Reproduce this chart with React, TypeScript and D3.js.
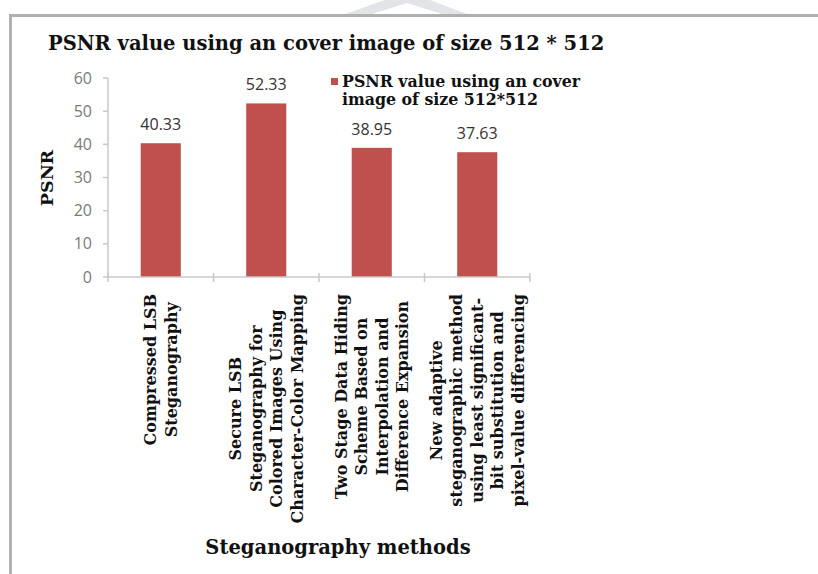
import React, { useEffect, useRef } from "react";
import * as d3 from "d3";

const categories: string[][] = [
  ["Compressed LSB", "Steganography"],
  ["Secure LSB", "Steganography for", "Colored Images Using", "Character-Color Mapping"],
  ["Two Stage Data Hiding", "Scheme Based on", "Interpolation and", "Difference Expansion"],
  ["New adaptive", "steganographic method", "using least significant-", "bit substitution and", "pixel-value differencing"],
];
const psnrValues: number[] = [40.33, 52.33, 38.95, 37.63];
const yTicks: number[] = [0, 10, 20, 30, 40, 50, 60];
const chartTitle = "PSNR value using an cover image of size 512 * 512";
const legendLines: string[] = ["PSNR value using an cover", "image of size 512*512"];
const yTitle = "PSNR";
const xTitle = "Steganography methods";

const W = 818;
const H = 574;
const SERIF = "'DejaVu Serif', serif";
const SANS = "'Open Sans', 'Liberation Sans', sans-serif";
const RED = "#C0504D";

export default function App() {
  const ref = useRef<SVGSVGElement | null>(null);

  useEffect(() => {
    const svg = d3.select(ref.current);
    svg.selectAll("*").remove();

    const left = 108, right = 530, top = 78, bottom = 277;

    // frame
    svg.append("rect").attr("width", W).attr("height", H).attr("fill", "#fff");
    svg.append("polygon")
      .attr("points", "345,14 385,0 430,0 467,14 442,14 407,3 372,14")
      .attr("fill", "#e2e4e7");
    svg.append("line").attr("x1", 9).attr("x2", W).attr("y1", 15.5).attr("y2", 15.5)
      .attr("stroke", "#b0b0b0").attr("stroke-width", 3);
    svg.append("line").attr("x1", 10.5).attr("x2", 10.5).attr("y1", 14).attr("y2", H)
      .attr("stroke", "#b0b0b0").attr("stroke-width", 3);

    // title
    svg.append("text").attr("x", 48).attr("y", 50)
      .attr("font-family", SERIF).attr("font-weight", "bold").attr("font-size", 19.5)
      .attr("fill", "#111").text(chartTitle);

    const x = d3.scaleBand<number>().domain(d3.range(categories.length)).range([left, right]).paddingInner(0.62).paddingOuter(0.31);
    const xb = d3.scaleBand<number>().domain(d3.range(categories.length)).range([left, right]);
    const y = d3.scaleLinear().domain([0, 60]).range([bottom, top]);

    // y axis
    const g = svg.append("g");
    g.append("line").attr("x1", left).attr("x2", left).attr("y1", top).attr("y2", bottom)
      .attr("stroke", "#c8c8c8").attr("stroke-width", 1.5);
    yTicks.forEach((t) => {
      g.append("line").attr("x1", left - 5).attr("x2", left).attr("y1", y(t)).attr("y2", y(t))
        .attr("stroke", "#c8c8c8").attr("stroke-width", 1.5);
      g.append("text").attr("x", left - 16).attr("y", y(t)).attr("dy", "0.35em")
        .attr("text-anchor", "end").attr("font-family", SANS).attr("font-size", 16)
        .attr("fill", "#7a7a7a").text(String(t));
    });

    // bars
    psnrValues.forEach((v, i) => {
      g.append("rect").attr("x", x(i)!).attr("width", x.bandwidth())
        .attr("y", y(v)).attr("height", y(0) - y(v)).attr("fill", RED);
      g.append("text").attr("x", x(i)! + x.bandwidth() / 2).attr("y", y(v) - 13)
        .attr("text-anchor", "middle").attr("font-family", SANS).attr("font-size", 16)
        .attr("fill", "#333").text(v.toFixed(2));
    });

    // x axis
    g.append("line").attr("x1", left).attr("x2", right).attr("y1", bottom).attr("y2", bottom)
      .attr("stroke", "#c8c8c8").attr("stroke-width", 1.5);
    d3.range(categories.length + 1).forEach((i) => {
      const xx = i < categories.length ? xb(i)! : right;
      g.append("line").attr("x1", xx).attr("x2", xx).attr("y1", bottom - 4).attr("y2", bottom + 5)
        .attr("stroke", "#c8c8c8").attr("stroke-width", 1.5);
    });

    // x labels
    categories.forEach((lines, i) => {
      const cx = xb(i)! + xb.bandwidth() / 2;
      const lg = g.append("g");
      const texts = lines.map((ln) =>
        lg.append("text").attr("font-family", SERIF).attr("font-weight", "bold")
          .attr("font-size", 16).attr("fill", "#111").attr("text-anchor", "middle")
          .attr("dominant-baseline", "central").text(ln)
      );
      const maxLen = d3.max(texts, (t) => (t.node() as SVGTextElement).getComputedTextLength()) || 0;
      const cy = 294 + maxLen / 2;
      texts.forEach((t, j) => {
        const lx = cx + (j - (lines.length - 1) / 2) * 20.5;
        t.attr("transform", `translate(${lx},${cy}) rotate(-90)`);
      });
    });

    // axis titles
    svg.append("text").attr("transform", `translate(47,178) rotate(-90)`)
      .attr("text-anchor", "middle").attr("dominant-baseline", "central")
      .attr("font-family", SERIF).attr("font-weight", "bold").attr("font-size", 17.5)
      .attr("fill", "#111").text(yTitle);
    svg.append("text").attr("x", 338).attr("y", 554).attr("text-anchor", "middle")
      .attr("font-family", SERIF).attr("font-weight", "bold").attr("font-size", 19.5)
      .attr("fill", "#111").text(xTitle);

    // legend
    svg.append("rect").attr("x", 331).attr("y", 78).attr("width", 7).attr("height", 7).attr("fill", RED);
    legendLines.forEach((ln, i) => {
      svg.append("text").attr("x", 342).attr("y", 87 + i * 18)
        .attr("font-family", SERIF).attr("font-weight", "bold").attr("font-size", 15.8)
        .attr("fill", "#111").text(ln);
    });
  }, []);

  return (
    <svg ref={ref} width={W} height={H} style={{ position: "absolute", left: 0, top: 0 }} />
  );
}
